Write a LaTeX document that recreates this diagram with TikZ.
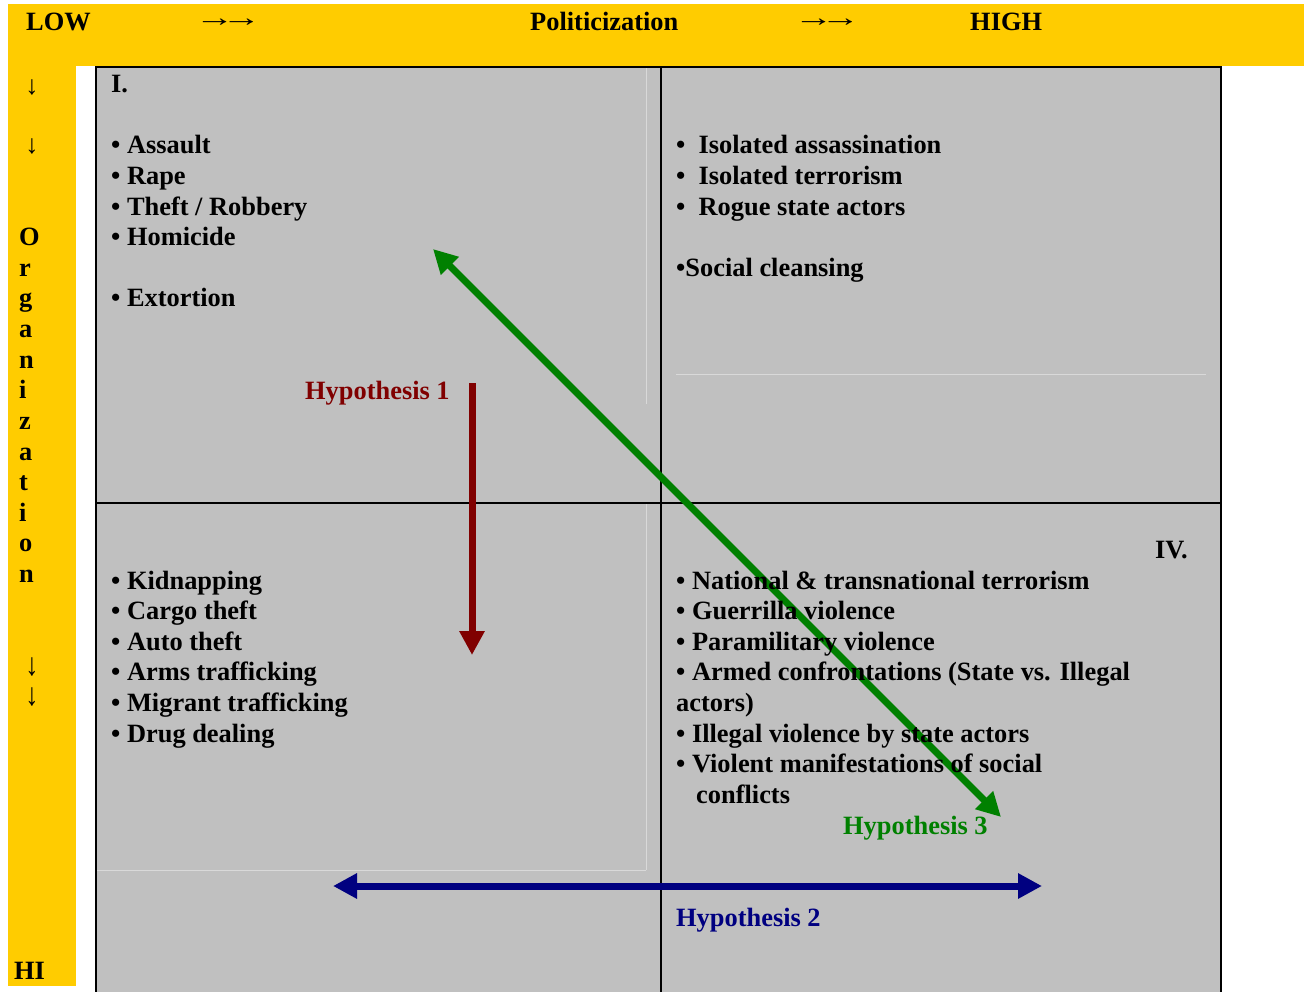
\documentclass[tikz,border=0pt]{standalone}
\usepackage{fontspec}
\usepackage{graphicx}
\setmainfont{Liberation Serif}
\usetikzlibrary{arrows.meta}
\definecolor{barcol}{RGB}{255,204,0}
\definecolor{gbox}{HTML}{C0C0C0}
\definecolor{hone}{HTML}{800000}
\definecolor{htwo}{HTML}{000080}
\definecolor{hthree}{HTML}{008000}
\definecolor{faint}{HTML}{D9D9D9}
\newcommand{\myarrs}{\scalebox{1.5}[1]{→}\kern-13pt\scalebox{1.5}[1]{→}}
\begin{document}
\begin{tikzpicture}[x=1pt,y=-1pt,
  txt/.style={anchor=base west, inner sep=0pt, font=\fontsize{26.4}{30.6}\selectfont\bfseries},
  arw/.style={anchor=center, inner sep=0pt, font=\fontsize{26.4}{30.6}\selectfont},
  grid line/.style={line width=2pt, black},
  faint line/.style={line width=1pt, faint},
  bigtri/.tip={Triangle[length=24pt,width=24pt]},
  hypline/.style={line width=7pt}]
\useasboundingbox (0,0) rectangle (1304,992);
\clip (0,0) rectangle (1304,992);
\fill[white] (0,0) rectangle (1304,992);
% yellow bars
\fill[fill=barcol] (8,4) rectangle (1304,66);
\fill[fill=barcol] (8,66) rectangle (76,986);
% grey box
\fill[gbox] (96,67) rectangle (1221,1000);
\draw[faint line] (646,67) -- (646,404);
\draw[faint line] (646,503) -- (646,870);
\draw[faint line] (97,870) -- (646,870);
\draw[faint line] (676,374) -- (1206,374);
\draw[grid line] (96,67) rectangle (1221,1000);
\draw[grid line] (661,67) -- (661,1000);
\draw[grid line] (96,503) -- (1221,503);
% hypothesis arrows
\coordinate (h1a) at (472,383);
\coordinate (h1b) at (472,655);
\coordinate (h2a) at (333,886);
\coordinate (h2b) at (1042,886);
\coordinate (h3a) at (433,249);
\coordinate (h3b) at (1001,817);
\draw[hypline, hone, -bigtri] (h1a) -- (h1b);
\draw[hypline, htwo, bigtri-bigtri] (h2a) -- (h2b);
\draw[hypline, hthree, bigtri-bigtri] (h3a) -- (h3b);
% top bar
\node[txt] (low) at (26,30.7) {LOW};
\node[arw] (ra1) at (228,23) {\myarrs};
\node[txt] (pol) at (530,30.7) {Politicization};
\node[arw] (ra2) at (827,23) {\myarrs};
\node[txt] (high) at (970,30.7) {HIGH};
% left bar
\node[arw] (da1) at (32,87) {↓};
\node[arw] (da2) at (32,146) {↓};
\foreach \c [count=\i from 0] in {O,r,g,a,n,i,z,a,t,i,o,n}
  \node[txt] (org\i) at (19,{245.8+30.6*\i}) {\c};
\node[arw] (da3) at (32,667) {\scalebox{1}[1.2]{↓}};
\node[arw] (da4) at (32,697.5) {\scalebox{1}[1.2]{↓}};
\node[txt] (hi) at (14,979) {HI};
% quadrant I
\node[txt] (qone) at (111,92.8) {I.};
\node[txt] (q1a) at (111,154) {• Assault};
\node[txt] (q1b) at (111,184.6) {• Rape};
\node[txt] (q1c) at (111,215.2) {• Theft / Robbery};
\node[txt] (q1d) at (111,245.8) {• Homicide};
\node[txt] (q1e) at (111,307) {• Extortion};
% quadrant II
\node[txt] (q2a) at (676,154) {•~~Isolated assassination};
\node[txt] (q2b) at (676,184.6) {•~~Isolated terrorism};
\node[txt] (q2c) at (676,215.2) {•~~Rogue state actors};
\node[txt] (q2d) at (676,276.4) {•Social cleansing};
% quadrant III
\node[txt] (q3a) at (111,589) {• Kidnapping};
\node[txt] (q3b) at (111,619.6) {• Cargo theft};
\node[txt] (q3c) at (111,650.2) {• Auto theft};
\node[txt] (q3d) at (111,680.8) {• Arms trafficking};
\node[txt] (q3e) at (111,711.4) {• Migrant trafficking};
\node[txt] (q3f) at (111,742) {• Drug dealing};
% quadrant IV
\node[txt] (qfour) at (1155,558.4) {IV.};
\node[txt] (q4a) at (676,589) {• National \& transnational terrorism};
\node[txt] (q4b) at (676,619.6) {• Guerrilla violence};
\node[txt] (q4c) at (676,650.2) {• Paramilitary violence};
\node[txt] (q4d) at (676,680.8) {• Armed confrontations (State vs. Illegal};
\node[txt] (q4e) at (676,711.4) {actors)};
\node[txt] (q4f) at (676,742) {• Illegal violence by state actors};
\node[txt] (q4g) at (676,772.6) {• Violent manifestations of social};
\node[txt] (q4h) at (696,803.2) {conflicts};
% hypothesis labels
\node[txt, text=hone] (hy1) at (305,399) {Hypothesis 1};
\node[txt, text=htwo] (hy2) at (676,926) {Hypothesis 2};
\node[txt, text=hthree] (hy3) at (843,834) {Hypothesis 3};
\end{tikzpicture}
\end{document}
